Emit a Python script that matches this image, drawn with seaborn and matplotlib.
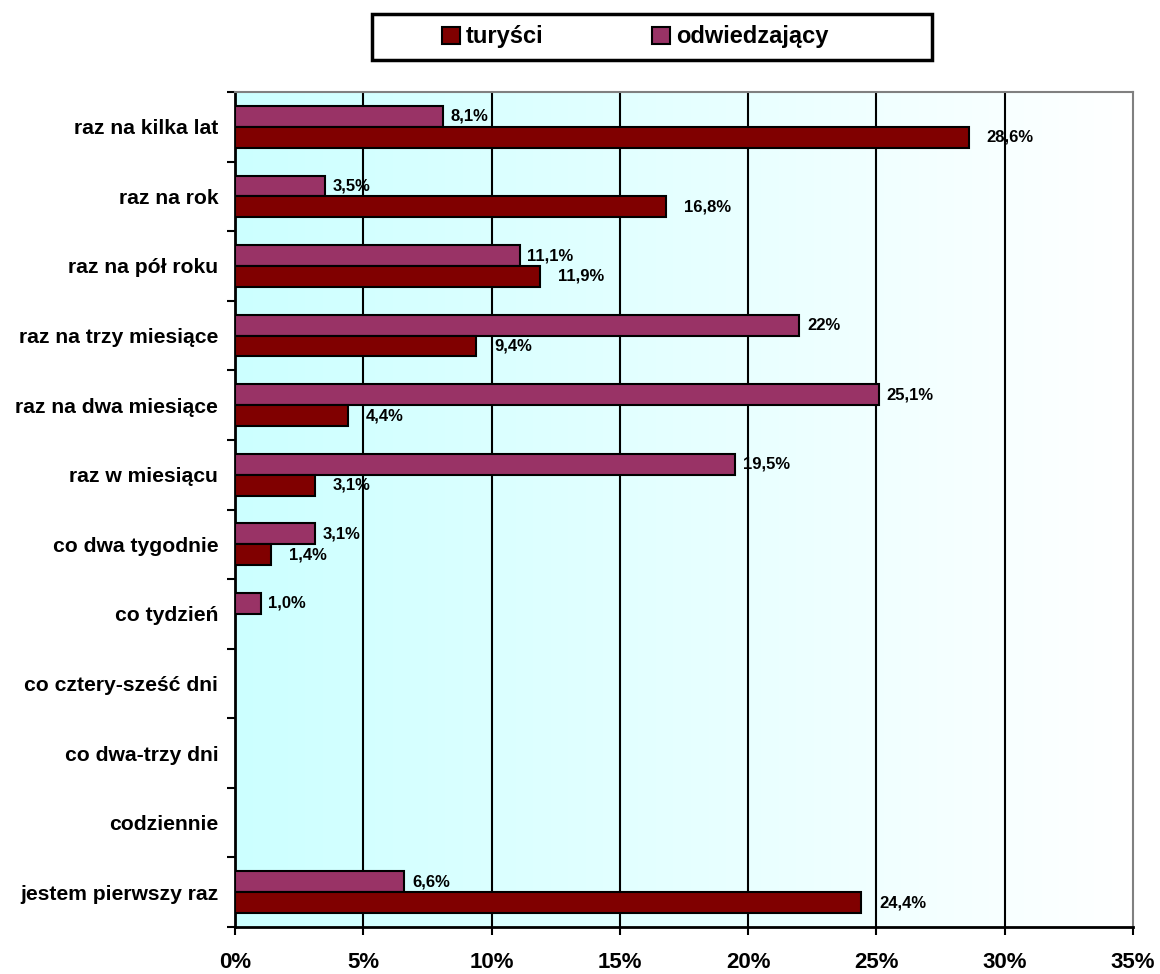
import matplotlib
matplotlib.use("Agg")
import matplotlib.pyplot as plt
import seaborn as sns
import numpy as np
import pandas as pd
from matplotlib.colors import LinearSegmentedColormap
from matplotlib.patches import Patch, Rectangle

# dane
kategorie = ['raz na kilka lat', 'raz na rok', 'raz na pół roku', 'raz na trzy miesiące',
             'raz na dwa miesiące', 'raz w miesiącu', 'co dwa tygodnie', 'co tydzień',
             'co cztery-sześć dni', 'co dwa-trzy dni', 'codziennie', 'jestem pierwszy raz']
turysci = [28.6, 16.8, 11.9, 9.4, 4.4, 3.1, 1.4, np.nan, np.nan, np.nan, np.nan, 24.4]
odwiedzajacy = [8.1, 3.5, 11.1, 22.0, 25.1, 19.5, 3.1, 1.0, np.nan, np.nan, np.nan, 6.6]
etykiety_t = ['28,6%', '16,8%', '11,9%', '9,4%', '4,4%', '3,1%', '1,4%', '', '', '', '', '24,4%']
etykiety_o = ['8,1%', '3,5%', '11,1%', '22%', '25,1%', '19,5%', '3,1%', '1,0%', '', '', '', '6,6%']
x_ticks = [0, 5, 10, 15, 20, 25, 30, 35]

kolory = {'turyści': '#800000', 'odwiedzający': '#993366'}

df = pd.DataFrame({
    'kategoria': kategorie * 2,
    'grupa': ['turyści'] * len(kategorie) + ['odwiedzający'] * len(kategorie),
    'udzial': turysci + odwiedzajacy,
})

sns.set_style("white")
plt.rcParams['font.family'] = ['Liberation Sans', 'DejaVu Sans']
plt.rcParams['font.weight'] = 'bold'
plt.rcParams['text.color'] = 'black'
plt.rcParams['xtick.color'] = 'black'
plt.rcParams['ytick.color'] = 'black'

fig = plt.figure(figsize=(11.6, 9.74), dpi=100)
ax = fig.add_axes([235 / 1160, 1 - 927 / 974, (1133 - 235) / 1160, (927 - 92) / 974])

# tło z gradientem (cyjan -> biały)
cmap = LinearSegmentedColormap.from_list('tlo', ['#CCFFFF', '#FFFFFF'])
ax.imshow(np.linspace(0, 1, 256).reshape(1, -1), extent=[0, 35, len(kategorie) - 0.5, -0.5],
          aspect='auto', cmap=cmap, zorder=0)

sns.barplot(data=df, y='kategoria', x='udzial', hue='grupa', order=kategorie,
            hue_order=['odwiedzający', 'turyści'], palette=kolory, saturation=1, width=0.6,
            edgecolor='black', linewidth=1.5, orient='h', errorbar=None,
            legend=False, ax=ax, zorder=3)

for x in x_ticks[1:-1]:
    ax.axvline(x, color='black', lw=1.5, zorder=1)

for kontener, etykiety, dx in zip(ax.containers, [etykiety_o, etykiety_t], [0.3, 0.7]):
    for bar in kontener:
        w = bar.get_width()
        yc = bar.get_y() + bar.get_height() / 2
        tekst = etykiety[int(round(yc))]
        if np.isnan(w) or not tekst:
            continue
        ax.text(w + dx, yc, tekst, va='center', ha='left',
                fontsize=12, fontweight='bold', zorder=4)

ax.set_xlim(0, 35)
ax.set_ylim(len(kategorie) - 0.5, -0.5)
ax.set_xticks(x_ticks)
ax.set_xticklabels([f'{t}%' for t in x_ticks], fontsize=16, fontweight='bold')
ax.set_yticks(range(len(kategorie)))
ax.set_yticklabels(kategorie, fontsize=15.2, fontweight='bold')
ax.set_yticks(np.arange(-0.5, len(kategorie), 1), minor=True)
ax.tick_params(axis='y', which='major', length=0, pad=12)
ax.tick_params(axis='y', which='minor', length=6, width=1.5, direction='out', color='black', left=True)
ax.tick_params(axis='x', length=6, width=1.5, direction='out', color='black', pad=12, bottom=True)
ax.set_xlabel('')
ax.set_ylabel('')

for s in ['left', 'bottom']:
    ax.spines[s].set_color('black')
    ax.spines[s].set_linewidth(2)
for s in ['top', 'right']:
    ax.spines[s].set_color('#808080')
    ax.spines[s].set_linewidth(1.5)

# legenda
fig.patches.append(Rectangle((372 / 1160, 1 - 60 / 974), 560 / 1160, 46 / 974,
                             transform=fig.transFigure, fill=False, edgecolor='black', lw=2.5))
uchwyty = [Patch(facecolor=kolory['turyści'], edgecolor='black', lw=1.5, label='turyści'),
           Patch(facecolor=kolory['odwiedzający'], edgecolor='black', lw=1.5, label='odwiedzający')]
fig.legend(handles=uchwyty, loc='center left', bbox_to_anchor=(421 / 1160, 1 - 37 / 974), ncol=2,
           frameon=False, handlelength=0.75, handleheight=0.75, handletextpad=0.25,
           columnspacing=4.6, prop={'size': 17, 'weight': 'bold'})

fig.savefig('out.png', dpi=100)
